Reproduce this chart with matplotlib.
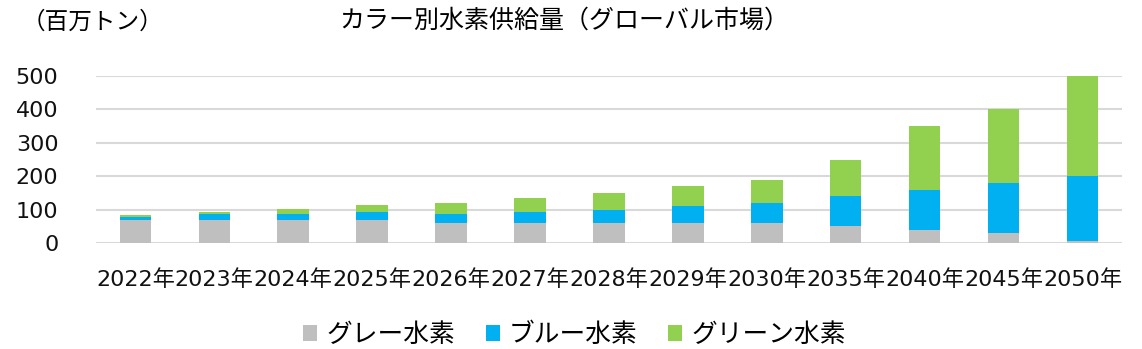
import numpy as np
import matplotlib.pyplot as plt
from matplotlib.patches import Patch

plt.rcParams['font.family'] = ['DejaVu Sans', 'Noto Sans CJK JP']

years = ['2022年', '2023年', '2024年', '2025年', '2026年', '2027年', '2028年',
         '2029年', '2030年', '2035年', '2040年', '2045年', '2050年']
gray = [70, 70, 70, 70, 60, 60, 60, 60, 60, 50, 40, 30, 5]
blue = [8, 16, 18, 23, 28, 33, 40, 50, 60, 90, 120, 150, 195]
green = [7, 7, 15, 21, 31, 42, 50, 60, 70, 110, 190, 220, 300]
series_names = ['グレー水素', 'ブルー水素', 'グリーン水素']
colors = ['#BFBFBF', '#00B0F0', '#92D050']

fig = plt.figure(figsize=(11.42, 3.49), dpi=100)
ax = fig.add_axes([0.084, 0.3037, 0.8984, 0.4785])

x = np.arange(len(years))
gray = np.array(gray)
blue = np.array(blue)
green = np.array(green)
w = 0.4
ax.bar(x, gray, w, color=colors[0], zorder=3)
ax.bar(x, blue, w, bottom=gray, color=colors[1], zorder=3)
ax.bar(x, green, w, bottom=gray + blue, color=colors[2], zorder=3)

ax.set_xlim(-0.5, len(years) - 0.5)
ax.set_ylim(0, 500)
ax.set_yticks(range(0, 501, 100))
ax.yaxis.grid(True, color='#D9D9D9', linewidth=1.5, zorder=0)
for s in ax.spines.values():
    s.set_visible(False)
ax.tick_params(axis='both', length=0, labelsize=16, labelcolor='#111111')
ax.tick_params(axis='y', pad=27)
ax.set_xticks(x)
ax.set_xticklabels(years)
ax.tick_params(axis='x', pad=19)

fig.text(0.019, 0.935, '（百万トン）', fontsize=17, ha='left', va='center',
         family=['Noto Sans CJK JP'])
fig.text(0.494, 0.94, 'カラー別水素供給量（グローバル市場）', fontsize=18,
         ha='center', va='center', family=['Noto Sans CJK JP'])

handles = [Patch(facecolor=c, edgecolor='none') for c in colors]
fig.legend(handles, series_names, loc='center', bbox_to_anchor=(0.503, 0.04),
           ncol=3, frameon=False, handlelength=0.55, handleheight=0.55,
           handletextpad=0.35, columnspacing=1.2, borderpad=0.2,
           prop={'family': 'Noto Sans CJK JP', 'size': 18.5})

fig.savefig('out.png', dpi=100)
